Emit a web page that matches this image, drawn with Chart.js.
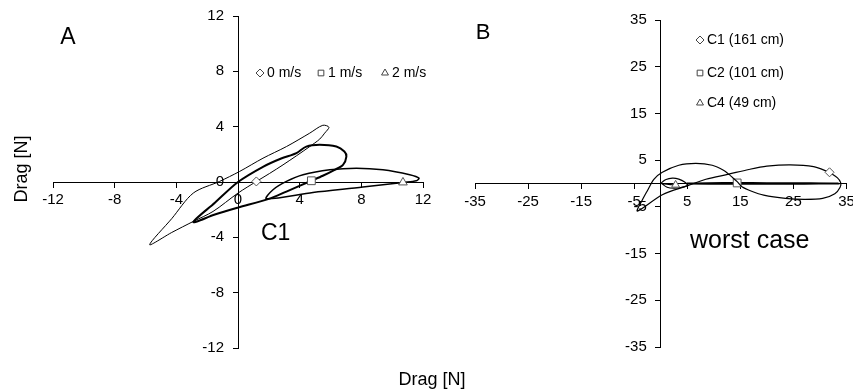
<!DOCTYPE html>
<html>
<head>
<meta charset="utf-8">
<script src="https://cdn.jsdelivr.net/npm/chart.js@4/dist/chart.umd.min.js"></script>
<style>
body { margin: 0; background: #fff; }
#wrap { position: relative; width: 853px; height: 390px; }
#wrap canvas { position: absolute; left: 0; top: 0; }
</style>
</head>
<body>
<div id="wrap">
<canvas id="chartA" width="853" height="390"></canvas>
<canvas id="chartB" width="853" height="390"></canvas>
</div>
<script>
// panel A: loops at three flow speeds (first point carries the marker)
const speedLabels = ["0 m/s", "1 m/s", "2 m/s"];

const x0 = [1.19, 2.05, 2.92, 3.8, 4.65, 5.3, 5.62, 5.9, 5.5, 4.65, 3.14, 1.62, 0.1, -1.2, -2.9, -4.3, -5.73, -4.3, -2.9, -1.62, 0, 1.19];
const y0 = [0.04, 0.62, 1.24, 1.9, 2.56, 3.1, 3.53, 3.96, 4.1, 3.53, 2.56, 1.72, 0.76, 0.04, -0.8, -2.65, -4.53, -3.65, -2.85, -2.13, -0.8, 0.04];

const x1 = [4.76, 3.14, 1.95, 0, -1.5, -2.9, -1.5, 0, 1.62, 2.8, 3.79, 4.43, 5.3, 6.38, 6.9, 7.03, 6.81, 6.27, 5.5, 4.76];
const y1 = [0.09, -0.69, -1.24, -1.85, -2.35, -2.9, -1.5, 0, 1.1, 1.7, 2.09, 2.56, 2.69, 2.56, 2.2, 1.84, 1.24, 0.88, 0.45, 0.09];

const x2 = [10.7, 8.1, 4.86, 1.84, 2.27, 3.14, 4.22, 5.95, 7.68, 9.4, 11.14, 11.74, 11.57, 10.7];
const y2 = [-0.03, -0.37, -0.76, -1.21, -0.56, 0.04, 0.52, 0.88, 1.0, 0.88, 0.52, 0.28, 0.09, -0.03];

// panel B: worst case, three cylinder lengths
const caseLabels = ["C1 (161 cm)", "C2 (101 cm)", "C4 (49 cm)"];

const c1x = [31.8, 33.3, 33.9, 33.8, 32.8, 30.5, 27, 23.5, 19.4, 17, 15.3, 14.4, 13.5, 12.8, 11.9, 9.7, 6.6, 3.4, 0.3, -1.3, -2.5, -3.5, -4.4, 0.3, 5, 8.5, 12.8, 16.6, 20, 24.4, 28.8, 31.8];
const c1y = [2.4, 1.2, 0.2, -0.8, -2.2, -3.2, -3.4, -3.2, -2.5, -1.6, -0.7, 0.4, 1.3, 2.0, 2.8, 3.9, 4.3, 3.9, 2.4, 0.9, -1.5, -3.6, -5.9, -2.4, -0.5, 0.9, 2.0, 3.0, 3.7, 4.0, 3.6, 2.4];

const c2x = [14.4, 20, 27, 33.5, 27, 20, 12, 5, 9, 14.4];
const c2y = [0.12, 0.1, 0.06, 0, -0.06, -0.08, -0.08, 0, 0.08, 0.12];

const c4x = [2.8, 1.5, 0.1, 1, 2.2, 3.4, 4.5, 5, 3.8, 2.5, 1.2, 0.1];
const c4y = [-0.3, -0.2, 0.05, 0.85, 1.15, 0.95, 0.3, -0.4, -0.85, -1.0, -0.8, 0.05];

const ticksA = [-12, -8, -4, 0, 4, 8, 12];
const ticksB = [-35, -25, -15, -5, 5, 15, 25, 35];

const FONT = "'Liberation Sans', Arial, sans-serif";

function pts(xs, ys) {
  return xs.map((x, i) => ({ x: x, y: ys[i] }));
}

function loop(label, xs, ys, style, width, size) {
  return {
    label: label,
    data: pts(xs, ys),
    showLine: true,
    borderColor: "#000",
    borderWidth: width,
    tension: 0.3,
    pointStyle: style,
    pointRadius: ctx => ctx.dataIndex === 0 ? size : 0,
    pointBackgroundColor: "#fff",
    pointBorderColor: "#555",
    pointBorderWidth: 1
  };
}

function axis(min, max, tickList, isX) {
  return {
    type: "linear",
    min: min,
    max: max,
    position: isX ? { y: 0 } : { x: 0 },
    afterBuildTicks: s => { s.ticks = tickList.map(v => ({ value: v })); },
    afterFit: s => {
      if (isX) s.height = 0; else s.width = 0;
      s.paddingLeft = s.paddingRight = s.paddingTop = s.paddingBottom = 0;
    },
    grid: { display: true, drawOnChartArea: false, drawTicks: true, tickLength: 5, color: "#000" },
    border: { display: true, color: "#000", width: 1 },
    ticks: { color: "#000", padding: 4, font: { family: FONT, size: 15 } }
  };
}

// centred y axes put their labels right on the axis line; move them left
const shiftYLabels = {
  id: "shiftYLabels",
  beforeDraw(chart) {
    chart.scales.y.getLabelItems().forEach(it => {
      if (!it.shifted) {
        it.options.translation[0] -= 14;
        it.shifted = true;
      }
    });
  }
};

function text(ctx, str, x, y, size, align, base) {
  ctx.font = size + "px " + FONT;
  ctx.fillStyle = "#000";
  ctx.textAlign = align || "left";
  ctx.textBaseline = base || "middle";
  ctx.fillText(str, x, y);
}

function marker(ctx, style, x, y) {
  ctx.save();
  ctx.fillStyle = "#fff";
  ctx.strokeStyle = "#444";
  ctx.lineWidth = 1;
  Chart.helpers.drawPoint(ctx, { pointStyle: style, radius: 4, borderWidth: 1, rotation: 0 }, x, y);
  ctx.restore();
}

const notesA = {
  id: "notesA",
  afterDraw(chart) {
    const ctx = chart.ctx;
    ctx.save();
    text(ctx, "A", 68, 38, 23, "center");
    marker(ctx, "rectRot", 260, 73);
    text(ctx, speedLabels[0], 267, 73, 14);
    marker(ctx, "rect", 321, 73);
    text(ctx, speedLabels[1], 328, 73, 14);
    marker(ctx, "triangle", 385, 73);
    text(ctx, speedLabels[2], 392, 73, 14);
    text(ctx, "C1", 261, 240, 23, "left", "alphabetic");
    text(ctx, "Drag [N]", 432, 380, 18, "center");
    ctx.translate(22, 169);
    ctx.rotate(-Math.PI / 2);
    text(ctx, "Drag [N]", 0, 0, 18, "center");
    ctx.restore();
  }
};

const notesB = {
  id: "notesB",
  afterDraw(chart) {
    const ctx = chart.ctx;
    ctx.save();
    text(ctx, "B", 483, 33, 22, "center");
    marker(ctx, "rectRot", 700, 40);
    text(ctx, caseLabels[0], 707, 40, 14);
    marker(ctx, "rect", 700, 73);
    text(ctx, caseLabels[1], 707, 73, 14);
    marker(ctx, "triangle", 700, 103);
    text(ctx, caseLabels[2], 707, 103, 14);
    text(ctx, "worst case", 690, 248, 25, "left", "alphabetic");
    ctx.restore();
  }
};

const common = {
  responsive: false,
  animation: false,
  plugins: { legend: { display: false }, tooltip: { enabled: false } }
};

new Chart(document.getElementById("chartA").getContext("2d"), {
  type: "scatter",
  data: {
    datasets: [
      loop(speedLabels[0], x0, y0, "rectRot", 1, 4.5),
      loop(speedLabels[1], x1, y1, "rect", 2, 5.5),
      loop(speedLabels[2], x2, y2, "triangle", 1.5, 5)
    ]
  },
  options: Object.assign({}, common, {
    layout: { padding: { left: 53, right: 430, top: 16, bottom: 42 } },
    scales: {
      x: axis(-12, 12, ticksA, true),
      y: axis(-12, 12, ticksA, false)
    }
  }),
  plugins: [shiftYLabels, notesA]
});

new Chart(document.getElementById("chartB").getContext("2d"), {
  type: "scatter",
  data: {
    datasets: [
      loop(caseLabels[0], c1x, c1y, "rectRot", 1.2, 4.5),
      loop(caseLabels[1], c2x, c2y, "rect", 1.8, 5.5),
      loop(caseLabels[2], c4x, c4y, "triangle", 1.2, 4.5)
    ]
  },
  options: Object.assign({}, common, {
    layout: { padding: { left: 475, right: 5, top: 20, bottom: 43 } },
    scales: {
      x: axis(-35, 35, ticksB, true),
      y: axis(-35, 35, ticksB, false)
    }
  }),
  plugins: [shiftYLabels, notesB]
});
</script>
</body>
</html>
